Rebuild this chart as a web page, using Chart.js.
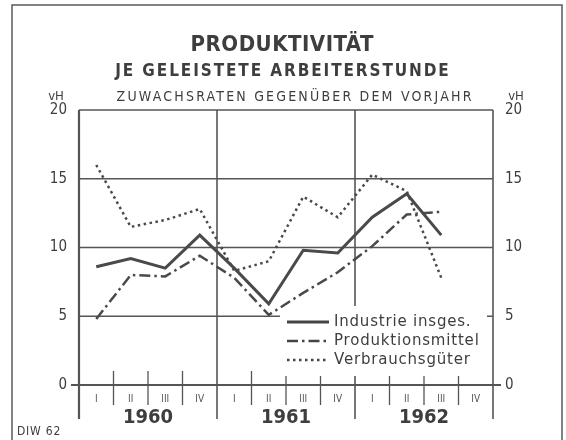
<!DOCTYPE html>
<html>
<head>
<meta charset="utf-8">
<script src="https://cdn.jsdelivr.net/npm/chart.js@4/dist/chart.umd.min.js"></script>
<style>
html,body{margin:0;padding:0;background:#fff;}
#wrap{width:566px;height:440px;position:relative;}
</style>
</head>
<body>
<div id="wrap"><canvas id="c" width="566" height="440"></canvas></div>
<script>
// ---- data ----
const quarters = ['I','II','III','IV','I','II','III','IV','I','II','III','IV'];
const years = ['1960','1961','1962'];
const industrie = [8.6, 9.2, 8.5, 10.9, 8.5, 5.9, 9.8, 9.6, 12.2, 13.9, 10.9, null];
const produktionsmittel = [4.8, 8.0, 7.9, 9.4, 7.8, 5.1, 6.7, 8.2, 10.1, 12.4, 12.6, null];
const verbrauchsgueter = [16.0, 11.5, 12.0, 12.8, 8.3, 9.0, 13.7, 12.2, 15.3, 14.1, 7.8, null];
const yTicks = [0, 5, 10, 15, 20];
const seriesNames = ['Industrie insges.', 'Produktionsmittel', 'Verbrauchsgüter'];
const titleLines = ['PRODUKTIVITÄT', 'JE GELEISTETE ARBEITERSTUNDE', 'ZUWACHSRATEN GEGENÜBER DEM VORJAHR'];
const unitLabel = 'vH';
const sourceLabel = 'DIW 62';

const INK = '#3e3e3e';
const FONT = "'DejaVu Sans Condensed', 'Liberation Sans Narrow', 'DejaVu Sans', sans-serif";
const WIDE = "'DejaVu Sans', sans-serif";
const dashes = [[], [11, 4, 2.5, 4], [2.5, 3.5]];
const widths = [3, 2.5, 2.5];

function spacedText(ctx, text, x, y, spacing) {
  ctx.letterSpacing = spacing + 'px';
  ctx.fillText(text, x + spacing / 2, y);
  ctx.letterSpacing = '0px';
}

const decor = {
  id: 'decor',
  beforeDraw(chart) {
    const ctx = chart.ctx;
    ctx.save();
    ctx.fillStyle = '#fff';
    ctx.fillRect(0, 0, chart.width, chart.height);
    // outer frame
    ctx.strokeStyle = '#5a5a5a';
    ctx.lineWidth = 1.5;
    ctx.strokeRect(12, 5, 550, 445);
    ctx.fillStyle = INK;
    ctx.textAlign = 'center';
    ctx.textBaseline = 'middle';
    ctx.font = "bold 22px " + FONT;
    spacedText(ctx, titleLines[0], 282, 45, 0.5);
    ctx.font = "bold 17px " + FONT;
    spacedText(ctx, titleLines[1], 282, 72, 1.9);
    ctx.font = "14px " + FONT;
    spacedText(ctx, titleLines[2], 294, 97, 2.2);
    ctx.font = "13px " + FONT;
    ctx.fillText(unitLabel, 56, 97);
    ctx.fillText(unitLabel, 516, 97);
    ctx.textAlign = 'left';
    ctx.font = "12px " + FONT;
    ctx.letterSpacing = '0.8px';
    ctx.fillText(sourceLabel, 17, 432);
    ctx.letterSpacing = '0px';
    ctx.restore();
  },
  beforeDatasetsDraw(chart) {
    const ctx = chart.ctx;
    const a = chart.chartArea;
    const xs = chart.scales.x;
    const ys = chart.scales.y;
    ctx.save();
    ctx.strokeStyle = '#555';
    ctx.lineCap = 'butt';
    // horizontal grid lines
    yTicks.forEach(v => {
      const y = ys.getPixelForValue(v);
      ctx.lineWidth = (v === 0) ? 2 : 1.5;
      ctx.beginPath();
      const ext = (v === 0) ? 8 : 0;
      ctx.moveTo(a.left - ext, y);
      ctx.lineTo(a.right + ext, y);
      ctx.stroke();
    });
    // boundaries between quarters
    const half = (xs.getPixelForValue(1) - xs.getPixelForValue(0)) / 2;
    const y0 = ys.getPixelForValue(0);
    for (let i = 0; i <= quarters.length; i++) {
      const x = (i < quarters.length) ? xs.getPixelForValue(i) - half : xs.getPixelForValue(i - 1) + half;
      ctx.beginPath();
      if (i % 4 === 0) {
        ctx.lineWidth = (i === 0) ? 2.2 : 1.6;
        ctx.moveTo(x, a.top);
        ctx.lineTo(x, y0 + 34);
      } else {
        ctx.lineWidth = 1.3;
        ctx.moveTo(x, y0 - 14);
        ctx.lineTo(x, y0 + 20);
      }
      ctx.stroke();
    }
    // year labels
    ctx.fillStyle = INK;
    ctx.font = "bold 20px " + FONT;
    ctx.textAlign = 'center';
    ctx.textBaseline = 'middle';
    years.forEach((yr, k) => {
      const xc = (xs.getPixelForValue(k * 4) + xs.getPixelForValue(k * 4 + 3)) / 2;
      ctx.fillText(yr, xc, y0 + 33);
    });
    // legend backdrop
    ctx.fillStyle = '#fff';
    ctx.fillRect(280, 306, 207, 70);
    ctx.restore();
  },
  afterDatasetsDraw(chart) {
    const ctx = chart.ctx;
    ctx.save();
    ctx.strokeStyle = '#444';
    ctx.fillStyle = INK;
    ctx.font = "15px " + WIDE;
    ctx.textBaseline = 'middle';
    ctx.textAlign = 'left';
    seriesNames.forEach((n, i) => {
      const y = 322 + i * 19;
      ctx.lineWidth = widths[i];
      ctx.setLineDash(dashes[i]);
      ctx.beginPath();
      ctx.moveTo(287, y);
      ctx.lineTo(329, y);
      ctx.stroke();
      ctx.setLineDash([]);
      ctx.letterSpacing = '0.8px';
      ctx.fillText(n, 334, y);
      ctx.letterSpacing = '0px';
    });
    ctx.restore();
  }
};

new Chart(document.getElementById('c'), {
  type: 'line',
  data: {
    labels: quarters,
    datasets: [
      { label: seriesNames[0], data: industrie, borderColor: '#4a4a4a', borderWidth: widths[0], borderDash: dashes[0], pointRadius: 0, tension: 0 },
      { label: seriesNames[1], data: produktionsmittel, borderColor: '#4a4a4a', borderWidth: widths[1], borderDash: dashes[1], pointRadius: 0, tension: 0 },
      { label: seriesNames[2], data: verbrauchsgueter, borderColor: '#4a4a4a', borderWidth: widths[2], borderDash: dashes[2], pointRadius: 0, tension: 0 }
    ]
  },
  options: {
    responsive: false,
    animation: false,
    events: [],
    layout: { padding: { left: 0, right: 0, top: 110, bottom: 25 } },
    plugins: { legend: { display: false }, tooltip: { enabled: false }, title: { display: false } },
    scales: {
      x: {
        type: 'category',
        offset: true,
        grid: { display: false, drawTicks: false },
        border: { display: false },
        ticks: { color: '#555', font: { family: FONT, size: 10 }, padding: 8, autoSkip: false, maxRotation: 0 },
        afterFit(s) { s.height = 30; }
      },
      y: {
        position: 'left',
        min: 0, max: 20,
        grid: { display: false, drawTicks: false },
        border: { display: false },
        ticks: { stepSize: 5, color: INK, font: { family: FONT, size: 15 }, padding: 12 },
        afterFit(s) { s.width = 79; }
      },
      y2: {
        position: 'right',
        min: 0, max: 20,
        grid: { display: false, drawTicks: false },
        border: { display: false },
        ticks: { stepSize: 5, color: INK, font: { family: FONT, size: 15 }, padding: 12 },
        afterFit(s) { s.width = 73; }
      }
    }
  },
  plugins: [decor]
});
</script>
</body>
</html>
